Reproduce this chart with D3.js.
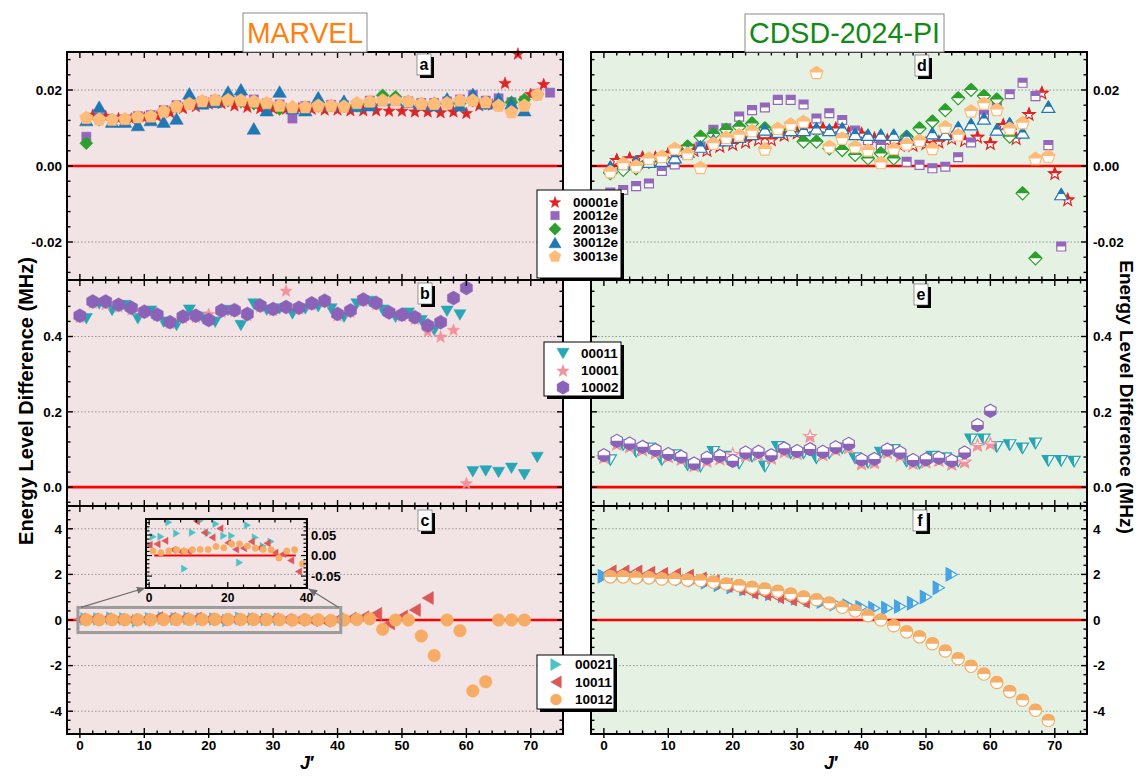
<!DOCTYPE html>
<html><head><meta charset="utf-8">
<script src="https://cdn.jsdelivr.net/npm/d3@7"></script>
<style>body{margin:0;background:#fff}svg{display:block}text{font-family:"Liberation Sans",Arial,sans-serif}</style>
</head><body><svg id="c" width="1141" height="776"></svg>
<script>
// ---------------- DATA ----------------
const J_TICKS=[0,10,20,30,40,50,60,70];
const J_LABELS=['0','10','20','30','40','50','60','70'];
const A_TICKS=[-0.02,0,0.02], A_LABELS=['-0.02','0.00','0.02'];
const B_TICKS=[0,0.2,0.4], B_LABELS=['0.0','0.2','0.4'];
const C_TICKS=[-4,-2,0,2,4], C_LABELS=['-4','-2','0','2','4'];
const INSET_X_TICKS=[0,20,40], INSET_X_LABELS=['0','20','40'];
const INSET_Y_TICKS=[-0.05,0,0.05], INSET_Y_LABELS=['-0.05','0.00','0.05'];
const LEGEND1=['00001e','20012e','20013e','30012e','30013e'];
const LEGEND2=['00011','10001','10002'];
const LEGEND3=['00021','10011','10012'];
const TITLE_L='MARVEL', TITLE_R='CDSD-2024-PI';
const Y_TITLE='Energy Level Difference (MHz)';

// panel a (MARVEL), first J of each series, step 2
const a_00001e_J0=2, a_00001e=[0.0135,0.0132,0.0126,0.0125,0.0128,0.0132,0.0142,0.0153,0.0158,0.0165,0.0166,0.0160,0.0156,0.0153,0.0152,0.0151,0.0152,0.0151,0.0149,0.0149,0.0147,0.0147,0.0147,0.0146,0.0146,0.0144,0.0144,0.0142,0.0144,0.0140,0.0160,0.0162,0.0219,0.0296,0.0190,0.0216];
const a_20012e_J0=1, a_20012e=[0.0077,0.0126,0.0121,0.0123,0.0131,0.0134,0.0147,0.0160,0.0168,0.0170,0.0174,0.0176,0.0175,0.0175,0.0165,0.0162,0.0125,0.0158,0.0162,0.0161,0.0160,0.0162,0.0172,0.0171,0.0175,0.0170,0.0166,0.0166,0.0170,0.0175,0.0187,0.0172,0.0178,0.0168,0.0172,0.0190,0.0193];
const a_20013e_J0=1, a_20013e=[0.0060,0.0122,0.0122,0.0122,0.0128,0.0131,0.0143,0.0156,0.0165,0.0168,0.0172,0.0172,0.0169,0.0164,0.0160,0.0150,0.0155,0.0154,0.0158,0.0159,0.0157,0.0160,0.0165,0.0186,0.0182,0.0170,0.0163,0.0165,0.0168,0.0165,0.0172,0.0165,0.0160,0.0168,0.0175,0.0188];
const a_30012e_J0=1, a_30012e=[0.0121,0.0156,0.0117,0.0117,0.0108,0.0121,0.0117,0.0125,0.0191,0.0165,0.0169,0.0196,0.0202,0.0099,0.0147,0.0196,0.0152,0.0147,0.0181,0.0160,0.0172,0.0158,0.0160,0.0174,0.0175,0.0169,0.0163,0.0160,0.0178,0.0160,0.0190,0.0165,0.0178,0.0165,0.0147];
const a_30013e_J0=1, a_30013e=[0.0128,0.0124,0.0123,0.0125,0.0130,0.0132,0.0145,0.0158,0.0165,0.0172,0.0175,0.0175,0.0174,0.0171,0.0167,0.0160,0.0156,0.0156,0.0160,0.0160,0.0158,0.0167,0.0171,0.0174,0.0174,0.0171,0.0165,0.0165,0.0167,0.0174,0.0174,0.0169,0.0160,0.0143,0.0160,0.0189];
// panel b
const b_00011_J0=1, b_00011=[0.447,0.486,0.469,0.482,0.447,0.467,0.438,0.429,0.470,0.451,0.438,0.469,0.429,0.486,0.470,0.473,0.460,0.473,0.479,0.473,0.451,0.486,0.493,0.470,0.451,0.462,0.442,0.416,0.467,0.457,0.041,0.043,0.039,0.050,0.033,0.079];
const b_10001_J0=0, b_10001=[0.452,0.490,0.486,0.480,0.472,0.465,0.456,0.436,0.450,0.452,0.460,0.466,0.468,0.457,0.480,0.470,0.522,0.474,0.485,0.492,0.456,0.466,0.495,0.486,0.466,0.455,0.447,0.414,0.400,0.418,0.011];
const b_10002_J0=0, b_10002=[0.455,0.493,0.493,0.484,0.476,0.466,0.458,0.438,0.453,0.455,0.444,0.469,0.470,0.460,0.482,0.473,0.478,0.476,0.488,0.495,0.460,0.469,0.498,0.489,0.464,0.458,0.451,0.429,0.438,0.502,0.529];
// panel c
const c_00021_J0=1, c_00021=[0.046,0.046,0.081,0.054,-0.032,0.056,0.085,0.055,0.077,0.048,0.048,-0.017,0.074,0.044,0.023,0.034];
const c_10011_J0=0, c_10011=[0.026,0.028,0.036,0.014,0.010,0.010,0.084,0.056,0.044,0.066,0.031,0.015,0.018,0.034,0.018,0.030,0.007,0.004,-0.012,-0.039,0.03,0.06,0.12,0.27,-0.15,0.15,0.44,0.96];
const c_10012_J0=1, c_10012=[0.011,0.007,0.011,0.014,0.011,0.014,0.015,0.015,0.022,0.019,0.028,0.028,0.023,0.018,0.015,0.014,-0.006,0.011,0.014,-0.020,0.0,0.02,0.05,-0.41,0.0,0.0,-0.70,-1.56,0.0,-0.47,-3.11,-2.71,0.0,0.0,0.0];
// panel d (CDSD)
const d_00001e_J0=2, d_00001e=[0.0016,0.0020,0.0023,0.0022,0.0033,0.0038,0.0042,0.0042,0.0053,0.0058,0.0064,0.0070,0.0070,0.0082,0.0088,0.0099,0.0099,0.0099,0.0088,0.0085,0.0073,0.0068,0.0055,0.0055,0.0060,0.0064,0.0073,0.0068,0.0077,0.0060,0.0108,0.0073,0.0137,0.0193,-0.0019,-0.0088];
const d_20012e_J0=1, d_20012e=[-0.0070,-0.0063,-0.0053,-0.0046,-0.0013,0.0004,0.0029,0.0051,0.0095,0.0099,0.0130,0.0147,0.0154,0.0174,0.0174,0.0162,0.0125,0.0139,0.0121,0.0093,0.0068,0.0055,0.0040,0.0011,0.0003,-0.0006,-0.0002,0.0023,0.0062,0.0135,0.0155,0.0189,0.0219,0.0184,0.0055,-0.0212];
const d_20013e_J0=1, d_20013e=[-0.0019,-0.0010,-0.0006,0.0011,0.0020,0.0042,0.0051,0.0077,0.0084,0.0095,0.0103,0.0112,0.0099,0.0095,0.0095,0.0064,0.0064,0.0046,0.0042,0.0029,0.0020,0.0033,0.0020,0.0077,0.0099,0.0117,0.0147,0.0178,0.0200,0.0184,0.0175,0.0077,-0.0072,-0.0243];
const d_30012e_J0=1, d_30012e=[-0.0002,0.0005,0.0011,0.0011,0.0014,0.0023,0.0038,0.0051,0.0068,0.0068,0.0077,0.0084,0.0096,0.0090,0.0095,0.0095,0.0099,0.0095,0.0099,0.0084,0.0082,0.0082,0.0082,0.0077,0.0070,0.0086,0.0084,0.0102,0.0110,0.0125,0.0096,0.0112,0.0088,null,0.0156,-0.0074];
const d_30013e_J0=1, d_30013e=[-0.0015,0.0007,0.0000,0.0020,0.0025,0.0046,0.0033,-0.0004,0.0060,0.0075,0.0082,0.0093,0.0045,0.0099,0.0110,0.0117,0.0246,0.0051,0.0073,0.0051,0.0042,0.0009,0.0046,0.0058,0.0067,0.0046,0.0103,0.0082,0.0145,0.0165,0.0149,0.0099,0.0114,0.0020,0.0026];
// panel e
const e_00011_J0=1, e_00011=[0.072,0.112,0.094,0.103,0.072,0.085,0.059,0.055,0.094,0.081,0.063,0.081,0.055,0.107,0.090,0.090,0.077,0.090,0.103,0.077,0.065,0.092,0.099,0.068,0.063,0.081,0.077,0.068,0.127,0.127,0.107,0.112,0.103,0.116,0.070,0.070,0.068];
const e_10001_J0=0, e_10001=[0.080,0.115,0.108,0.100,0.092,0.082,0.075,0.058,0.070,0.076,0.088,0.085,0.087,0.078,0.095,0.090,0.136,0.087,0.100,0.106,0.063,0.066,0.093,0.085,0.064,0.068,0.072,0.062,0.068,0.112,0.116];
const e_10002_J0=0, e_10002=[0.085,0.123,0.116,0.107,0.099,0.088,0.081,0.063,0.078,0.083,0.070,0.092,0.094,0.085,0.103,0.096,0.101,0.094,0.106,0.115,0.073,0.075,0.100,0.092,0.072,0.074,0.078,0.070,0.092,0.165,0.203];
// panel f
const f_00021_J0=0, f_00021=[1.92,1.95,1.95,1.89,1.89,1.85,1.80,1.75,1.66,1.55,1.45,1.36,1.26,1.15,1.07,0.96,0.89,0.81,0.70,0.62,0.56,0.52,0.52,0.59,0.74,1.01,1.41,2.00];
const f_10011_J0=1, f_10011=[2.10,2.10,2.10,2.05,2.00,1.97,1.92,1.80,1.68,1.52,1.38,1.22,1.15,1.02,0.92,0.82];
const f_10012_J0=1, f_10012=[1.89,1.89,1.85,1.85,1.80,1.80,1.75,1.73,1.66,1.58,1.51,1.43,1.36,1.26,1.14,1.01,0.89,0.74,0.56,0.40,0.19,0.00,-0.25,-0.52,-0.74,-1.04,-1.36,-1.70,-2.03,-2.37,-2.74,-3.14,-3.52,-3.96,-4.41];

// ---------------- STYLE / LAYOUT ----------------
const COL={red:'#e02424',purple:'#9467bd',green:'#2ca02c',blue:'#1f77b4',peach:'#ffbb78',
  teal:'#27a6b5',pink:'#f4919a',violet:'#8a63b8',teal2:'#4fc3c4',blue2:'#45a3e6',red2:'#dc5858',orange:'#f6ac64'};
const BG_L='#f2e4e4', BG_R='#e5f1e2';
const svg=d3.select('#c');
const defs=svg.append('defs');
[['top',0,0,1,0.5],['bottom',0,0.5,1,0.5],['left',0,0,0.5,1],['right',0.5,0,0.5,1]].forEach(([id,x,y,w,h])=>{
  defs.append('clipPath').attr('id','h-'+id).attr('clipPathUnits','objectBoundingBox')
    .append('rect').attr('x',x).attr('y',y).attr('width',w).attr('height',h);
});
defs.append('marker').attr('id','arr').attr('viewBox','0 0 10 10').attr('refX',9).attr('refY',5)
  .attr('markerWidth',7).attr('markerHeight',7).attr('orient','auto')
  .append('path').attr('d','M0,1L10,5L0,9Z').attr('fill','#6d6d6d');

function regPoly(n,r,start){const p=[];for(let i=0;i<n;i++){const a=(start+i*360/n)*Math.PI/180;p.push([r*Math.cos(a),r*Math.sin(a)]);}return p;}
function starPts(r){const p=[];for(let i=0;i<10;i++){const a=-Math.PI/2+i*Math.PI/5,rr=i%2?r*0.42:r;p.push([rr*Math.cos(a),rr*Math.sin(a)]);}return p;}
const SH={
  star:r=>starPts(r), square:r=>regPoly(4,r,-45), diamond:r=>regPoly(4,r,-90),
  tri_up:r=>regPoly(3,r,-90), tri_down:r=>regPoly(3,r,90), tri_left:r=>regPoly(3,r,180), tri_right:r=>regPoly(3,r,0),
  pentagon:r=>regPoly(5,r,-90), hexagon:r=>regPoly(6,r,-90), circle:null
};
function shapePath(shape,r){
  if(shape==='circle') return `M${r},0A${r},${r} 0 1,1 ${-r},0A${r},${r} 0 1,1 ${r},0Z`;
  const p=SH[shape](r);
  const xs=p.map(d=>d[0]), ys=p.map(d=>d[1]);
  const cx=(d3.min(xs)+d3.max(xs))/2, cy=(d3.min(ys)+d3.max(ys))/2;
  return 'M'+p.map(d=>[(d[0]-cx).toFixed(2),(d[1]-cy).toFixed(2)].join(',')).join('L')+'Z';
}
function marker(g,shape,x,y,r,color,mode){
  const d=shapePath(shape,r);
  const gg=g.append('g').attr('transform',`translate(${x},${y})`);
  if(mode==='full'){
    gg.append('path').attr('d',d).attr('fill',color).attr('stroke',color).attr('stroke-width',0.5);
  } else {
    gg.append('path').attr('d',d).attr('fill','#fff').attr('stroke',color).attr('stroke-width',1.2);
    gg.append('path').attr('d',d).attr('fill',color).attr('stroke',color).attr('stroke-width',1.2).attr('clip-path',`url(#h-${mode})`);
  }
}

const XL=d3.scaleLinear().domain([-2,75]).range([67,563]);
const XR=d3.scaleLinear().domain([-2,75]).range([591,1087]);
const ROWS={a:[52,280],b:[280,506],c:[506,734]};
const YA=d3.scaleLinear().domain([-0.03,0.03]).range([280,52]);
const YB=d3.scaleLinear().domain([-0.05,0.55]).range([506,280]);
const YC=d3.scaleLinear().domain([-5,5]).range([734,506]);

const gBg=svg.append('g'), gGrid=svg.append('g'), gZero=svg.append('g'), gPts=svg.append('g'), gAx=svg.append('g'), gTop=svg.append('g');

function panel(X,Y,row,bg,ticks,labels,minorStep,minorRange,labelSide,bottomLabels){
  const [x0,x1]=X.range(), [y1,y0]=[row[1],row[0]];
  gBg.append('rect').attr('x',x0).attr('y',y0).attr('width',x1-x0).attr('height',y1-y0).attr('fill',bg);
  ticks.forEach(v=>{ if(v!==0) gGrid.append('line').attr('x1',x0).attr('x2',x1).attr('y1',Y(v)).attr('y2',Y(v))
    .attr('stroke','#8a8a8a').attr('stroke-width',0.9).attr('stroke-dasharray','1.5,2'); });
  gZero.append('line').attr('x1',x0).attr('x2',x1).attr('y1',Y(0)).attr('y2',Y(0)).attr('stroke','#ff0000').attr('stroke-width',2.6);
  gAx.append('rect').attr('x',x0).attr('y',y0).attr('width',x1-x0).attr('height',y1-y0).attr('fill','none').attr('stroke','#000').attr('stroke-width',2);
  for(let v=0;v<=74;v+=2){
    const maj=v%10===0, len=maj?6:3.5;
    gAx.append('line').attr('x1',X(v)).attr('x2',X(v)).attr('y1',y0).attr('y2',y0+len).attr('stroke','#000').attr('stroke-width',1.4);
    gAx.append('line').attr('x1',X(v)).attr('x2',X(v)).attr('y1',y1).attr('y2',y1-len).attr('stroke','#000').attr('stroke-width',1.4);
    if(bottomLabels&&maj) gAx.append('line').attr('x1',X(v)).attr('x2',X(v)).attr('y1',y1).attr('y2',y1+4).attr('stroke','#000').attr('stroke-width',1.4);
  }
  for(let k=minorRange[0];k<=minorRange[1];k++){
    const v=k*minorStep, maj=k%5===0, len=maj?6:3.5;
    gAx.append('line').attr('x1',x0).attr('x2',x0+len).attr('y1',Y(v)).attr('y2',Y(v)).attr('stroke','#000').attr('stroke-width',1.4);
    gAx.append('line').attr('x1',x1).attr('x2',x1-len).attr('y1',Y(v)).attr('y2',Y(v)).attr('stroke','#000').attr('stroke-width',1.4);
  }
  ticks.forEach((v,i)=>{
    const t=gAx.append('text').attr('y',Y(v)).attr('dy','0.36em').attr('font-size',13.5).attr('font-weight','bold').text(labels[i]);
    if(labelSide==='left') t.attr('x',x0-5).attr('text-anchor','end'); else t.attr('x',x1+6).attr('text-anchor','start');
  });
  if(bottomLabels){
    J_TICKS.forEach((v,i)=>gAx.append('text').attr('x',X(v)).attr('y',y1+16).attr('text-anchor','middle').attr('font-size',13.5).attr('font-weight','bold').text(J_LABELS[i]));
  }
}
panel(XL,YA,ROWS.a,BG_L,A_TICKS,A_LABELS,0.004,[-7,7],'left',false);
panel(XL,YB,ROWS.b,BG_L,B_TICKS,B_LABELS,0.04,[-1,13],'left',false);
panel(XL,YC,ROWS.c,BG_L,C_TICKS,C_LABELS,0.4,[-12,12],'left',true);
panel(XR,YA,ROWS.a,BG_R,A_TICKS,A_LABELS,0.004,[-7,7],'right',false);
panel(XR,YB,ROWS.b,BG_R,B_TICKS,B_LABELS,0.04,[-1,13],'right',false);
panel(XR,YC,ROWS.c,BG_R,C_TICKS,C_LABELS,0.4,[-12,12],'right',true);

function series(g,X,Y,vals,j0,shape,r,color,mode){
  vals.forEach((v,i)=>{ if(v===null) return; marker(g,shape,X(j0+2*i),Y(v),r,color,mode); });
}
series(gPts,XL,YA,a_00001e,a_00001e_J0,'star',6.5,COL.red,'full');
series(gPts,XL,YA,a_20012e,a_20012e_J0,'square',6.5,COL.purple,'full');
series(gPts,XL,YA,a_20013e,a_20013e_J0,'diamond',6.5,COL.green,'full');
series(gPts,XL,YA,a_30012e,a_30012e_J0,'tri_up',7.8,COL.blue,'full');
series(gPts,XL,YA,a_30013e,a_30013e_J0,'pentagon',7,COL.peach,'full');
series(gPts,XL,YB,b_00011,b_00011_J0,'tri_down',7,COL.teal,'full');
series(gPts,XL,YB,b_10001,b_10001_J0,'star',6.5,COL.pink,'full');
series(gPts,XL,YB,b_10002,b_10002_J0,'hexagon',7,COL.violet,'full');
series(gPts,XL,YC,c_00021,c_00021_J0,'tri_right',7.5,COL.teal2,'full');
series(gPts,XL,YC,c_10011,c_10011_J0,'tri_left',7.5,COL.red2,'full');
series(gPts,XL,YC,c_10012,c_10012_J0,'circle',6.3,COL.orange,'full');
series(gPts,XR,YA,d_00001e,d_00001e_J0,'star',6.5,COL.red,'top');
series(gPts,XR,YA,d_20012e,d_20012e_J0,'square',6.3,COL.purple,'top');
series(gPts,XR,YA,d_20013e,d_20013e_J0,'diamond',6.5,COL.green,'top');
series(gPts,XR,YA,d_30012e,d_30012e_J0,'tri_up',7.5,COL.blue,'top');
series(gPts,XR,YA,d_30013e,d_30013e_J0,'pentagon',6.8,COL.peach,'top');
series(gPts,XR,YB,e_00011,e_00011_J0,'tri_down',7,COL.teal,'left');
series(gPts,XR,YB,e_10001,e_10001_J0,'star',6.5,COL.pink,'bottom');
series(gPts,XR,YB,e_10002,e_10002_J0,'hexagon',6.5,COL.violet,'bottom');
series(gPts,XR,YC,f_00021,f_00021_J0,'tri_right',7.5,COL.blue2,'left');
series(gPts,XR,YC,f_10011,f_10011_J0,'tri_left',7.5,COL.red2,'right');
series(gPts,XR,YC,f_10012,f_10012_J0,'circle',6.2,COL.orange,'top');

// zoom box & inset in panel c
gTop.append('rect').attr('x',XL(-0.3)).attr('y',YC(0.55)).attr('width',XL(40.5)-XL(-0.3)).attr('height',YC(-0.55)-YC(0.55))
  .attr('fill','none').attr('stroke','#9c9c9c').attr('stroke-width',3);
const IN={x0:146,x1:307,y0:519,y1:588};
const XI=d3.scaleLinear().domain([-0.8,40.15]).range([IN.x0,IN.x1]);
const YI=d3.scaleLinear().domain([-0.079,0.089]).range([IN.y1,IN.y0]);
gTop.append('line').attr('x1',XL(-0.3)+3).attr('y1',YC(0.55)).attr('x2',IN.x0-1).attr('y2',IN.y1).attr('stroke','#6d6d6d').attr('stroke-width',1.3).attr('marker-end','url(#arr)');
gTop.append('line').attr('x1',XL(40.5)-2).attr('y1',YC(0.55)).attr('x2',IN.x1+2).attr('y2',IN.y1+1).attr('stroke','#6d6d6d').attr('stroke-width',1.3).attr('marker-end','url(#arr)');
defs.append('clipPath').attr('id','inclip').append('rect').attr('x',IN.x0).attr('y',IN.y0).attr('width',IN.x1-IN.x0).attr('height',IN.y1-IN.y0);
const gIn=gTop.append('g').attr('clip-path','url(#inclip)');
gIn.append('line').attr('x1',XI(1.3)).attr('x2',XI(37.3)).attr('y1',YI(0)).attr('y2',YI(0)).attr('stroke','#ff0000').attr('stroke-width',2);
series(gIn,XI,YI,c_00021,c_00021_J0,'tri_right',4.2,COL.teal2,'full');
series(gIn,XI,YI,c_10011.slice(0,20),c_10011_J0,'tri_left',4.2,COL.red2,'full');
series(gIn,XI,YI,c_10012.slice(0,20),c_10012_J0,'circle',3.2,COL.orange,'full');
gTop.append('rect').attr('x',IN.x0).attr('y',IN.y0).attr('width',IN.x1-IN.x0).attr('height',IN.y1-IN.y0).attr('fill','none').attr('stroke','#000').attr('stroke-width',2);
for(let k=-7;k<=8;k++){const v=k*0.01, maj=k%5===0, len=maj?6:3.5;
  gTop.append('line').attr('x1',IN.x0).attr('x2',IN.x0+len).attr('y1',YI(v)).attr('y2',YI(v)).attr('stroke','#000').attr('stroke-width',1.2);
  gTop.append('line').attr('x1',IN.x1).attr('x2',IN.x1-len).attr('y1',YI(v)).attr('y2',YI(v)).attr('stroke','#000').attr('stroke-width',1.2);}
for(let v=0;v<=40;v+=4){const maj=v%20===0,len=maj?6:3.5;
  gTop.append('line').attr('x1',XI(v)).attr('x2',XI(v)).attr('y1',IN.y1).attr('y2',IN.y1-len).attr('stroke','#000').attr('stroke-width',1.2);
  gTop.append('line').attr('x1',XI(v)).attr('x2',XI(v)).attr('y1',IN.y0).attr('y2',IN.y0+len).attr('stroke','#000').attr('stroke-width',1.2);}
INSET_X_TICKS.forEach((v,i)=>gTop.append('text').attr('x',XI(v)).attr('y',IN.y1+14).attr('text-anchor','middle').attr('font-size',12).attr('font-weight','bold').text(INSET_X_LABELS[i]));
INSET_Y_TICKS.forEach((v,i)=>gTop.append('text').attr('x',IN.x1+4).attr('y',YI(v)).attr('dy','0.36em').attr('font-size',13).attr('font-weight','bold').text(INSET_Y_LABELS[i]));

function letter(x,y,t){
  gTop.append('rect').attr('x',x+3).attr('y',y+3).attr('width',14).attr('height',21).attr('fill','#000');
  gTop.append('rect').attr('x',x).attr('y',y).attr('width',14).attr('height',21).attr('fill','#fff').attr('stroke','#555').attr('stroke-width',0.6);
  gTop.append('text').attr('x',x+7).attr('y',y+16).attr('text-anchor','middle').attr('font-size',16).attr('font-weight','bold').text(t);
}
letter(417,54,'a');letter(418,283,'b');letter(418,510,'c');
letter(915,55,'d');letter(914,284,'e');letter(913,510,'f');

function legend(x,y,w,h,rows,names,sx,tx,items){
  gTop.append('rect').attr('x',x+3).attr('y',y+3).attr('width',w).attr('height',h).attr('fill','#000');
  gTop.append('rect').attr('x',x).attr('y',y).attr('width',w).attr('height',h).attr('fill','#fff').attr('stroke','#000').attr('stroke-width',1);
  names.forEach((n,i)=>{
    const it=items[i];
    marker(gTop,it[0],sx,rows[i],it[1],it[2],'full');
    gTop.append('text').attr('x',tx).attr('y',rows[i]).attr('dy','0.36em').attr('font-size',13.5).attr('font-weight','bold').text(n);
  });
}
legend(537,190,84,88,[202,215.5,229,242.5,256],LEGEND1,555,573,
  [['star',6,COL.red],['square',6,COL.purple],['diamond',6.2,COL.green],['tri_up',7,COL.blue],['pentagon',6.2,COL.peach]]);
legend(544,342,77,54,[353.5,370.5,387.5],LEGEND2,563,581,
  [['tri_down',7,COL.teal],['star',6.5,COL.pink],['hexagon',6.8,COL.violet]]);
legend(537,655,77,54,[664.5,682,699.5],LEGEND3,556,575,
  [['tri_right',7,COL.teal2],['tri_left',7,COL.red2],['circle',5.5,COL.orange]]);

function titleBox(x0,x1,y0,y1,t,col){
  gTop.append('rect').attr('x',x0).attr('y',y0).attr('width',x1-x0).attr('height',y1-y0).attr('fill','#fff').attr('stroke','#8a8a8a').attr('stroke-width',1);
  gTop.append('text').attr('x',x0+4).attr('y',y1-9).attr('font-size',30)
    .attr('font-family','"Liberation Sans Narrow","Arial Narrow","Liberation Sans",sans-serif')
    .attr('textLength',x1-x0-8).attr('lengthAdjust','spacingAndGlyphs').attr('fill',col).text(t);
}
titleBox(243,367,13,52,TITLE_L,'#ff7f10');
titleBox(745,944,14,52,TITLE_R,'#138a13');

gTop.append('text').attr('transform','translate(33,401) rotate(-90)').attr('text-anchor','middle').attr('font-size',20).attr('font-weight','bold').text(Y_TITLE);
gTop.append('text').attr('transform','translate(1120,397) rotate(90)').attr('text-anchor','middle').attr('font-size',19).attr('font-weight','bold').text(Y_TITLE);
[XL,XR].forEach(X=>{
  const t=gTop.append('text').attr('x',X(35.3)).attr('y',769).attr('text-anchor','middle').attr('font-size',18).attr('font-weight','bold');
  t.append('tspan').attr('font-style','italic').text('J');
  t.append('tspan').text('\u2032');
});
</script></body></html>
